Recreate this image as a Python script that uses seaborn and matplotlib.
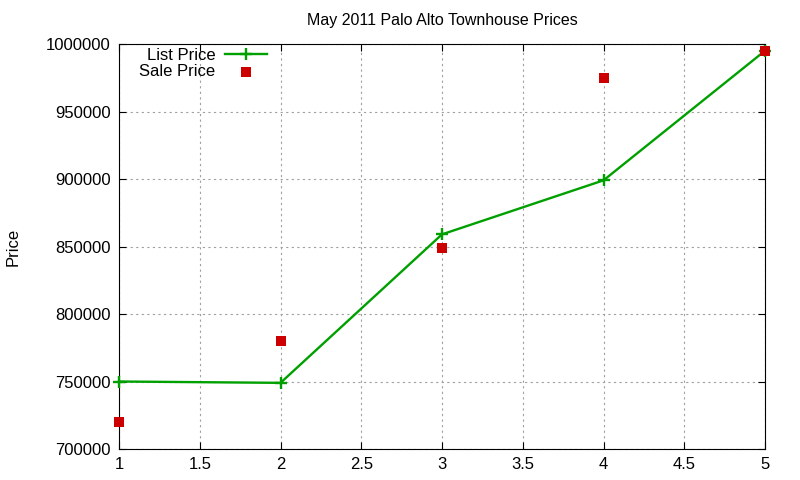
import pandas as pd
import matplotlib
matplotlib.use("Agg")
import matplotlib.pyplot as plt
import seaborn as sns

x = [1, 2, 3, 4, 5]
list_price = [750000, 749000, 859000, 899000, 995000]
sale_price = [720000, 780000, 849000, 975000, 995000]

df = pd.DataFrame({'x': x, 'List': list_price, 'Sale': sale_price})

plt.rcParams['font.family'] = ['Liberation Sans', 'DejaVu Sans']

fig = plt.figure(figsize=(8, 4.8), dpi=100)
ax = fig.add_axes([119/800, 1-449/480, 646/800, 405/480])

sns.lineplot(data=df, x='x', y='List', ax=ax, color='#00a000', linewidth=1.7,
             marker='+', markersize=8, markeredgewidth=1.7,
             markeredgecolor='#00a000', label='List Price', clip_on=False,
             zorder=3)
sns.scatterplot(data=df, x='x', y='Sale', ax=ax, color='#cc0000', marker='s',
                s=42, linewidth=0, label='Sale Price', zorder=4, clip_on=False)

ax.set_xlim(1, 5)
ax.set_ylim(700000, 1000000)
ax.set_xticks([1, 1.5, 2, 2.5, 3, 3.5, 4, 4.5, 5])
ax.set_xticklabels(['1', '1.5', '2', '2.5', '3', '3.5', '4', '4.5', '5'])
ax.set_yticks(range(700000, 1000001, 50000))
ax.set_yticklabels([str(v) for v in range(700000, 1000001, 50000)])
ax.tick_params(direction='in', length=5, labelsize=12, top=True, right=True, pad=6)
ax.grid(True, linestyle=(0, (2, 3)), color='#a0a0a0', linewidth=0.8)
ax.set_xlabel('')
ax.set_ylabel('Price', fontsize=12, labelpad=18)
ax.set_title('May 2011 Palo Alto Townhouse Prices', fontsize=11.5, pad=14)

leg = ax.legend(loc='upper left', bbox_to_anchor=(0.013, 1.02), frameon=False,
                markerfirst=False, fontsize=12, handlelength=2.5,
                handletextpad=0.6, labelspacing=0.1, borderaxespad=0.3)

fig.savefig('out.png', dpi=100)
